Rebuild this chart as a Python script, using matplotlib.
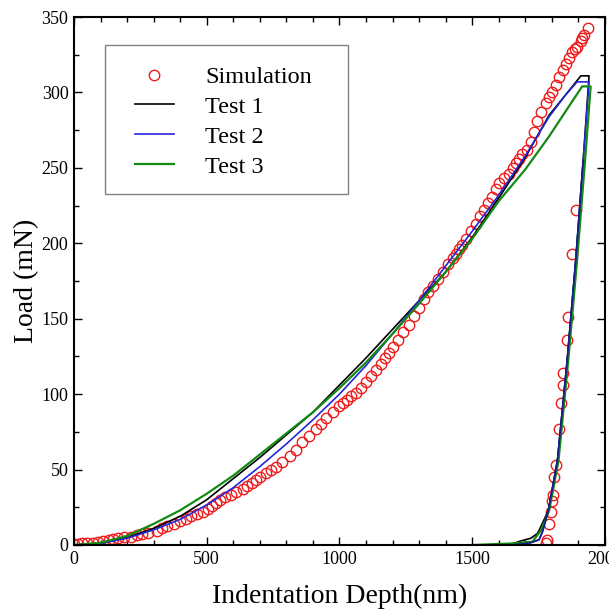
import numpy as np
import matplotlib
matplotlib.use("Agg")
import matplotlib.pyplot as plt
from matplotlib.ticker import MultipleLocator
from matplotlib.patches import Rectangle

plt.rcParams['font.family'] = ['Liberation Serif', 'DejaVu Serif']

# simulation: loading + unloading points (depth nm, load mN)
sim_depth = [0, 15, 30, 50, 70, 90, 110, 130, 147, 165, 190, 215, 236, 258, 280, 311, 330, 350,
             375, 398, 420, 440, 465, 486, 505, 520, 535, 549, 570, 590, 612, 635, 652, 670, 685,
             699, 724, 742, 760, 785, 812, 835, 860, 885, 912, 930, 950, 975, 1000, 1015, 1030,
             1045, 1063, 1080, 1100, 1120, 1138, 1155, 1170, 1185, 1200, 1220, 1238, 1260, 1280,
             1300, 1320, 1335, 1351, 1370, 1390, 1410, 1426, 1440, 1450, 1463, 1476, 1495, 1514,
             1530, 1545, 1560, 1575, 1590, 1602, 1620, 1639, 1652, 1665, 1677, 1689, 1705, 1720,
             1733, 1745, 1760, 1777, 1790, 1802, 1815, 1827, 1840, 1852, 1865, 1877, 1888, 1896,
             1909, 1915, 1921, 1936,
             1890, 1877, 1861, 1856, 1843, 1840, 1836, 1827, 1815, 1808, 1805, 1800, 1796, 1789,
             1783, 1777]
sim_load = [0.5, 0.8, 1, 1.3, 1.6, 2, 2.5, 3, 3.8, 4.3, 5, 5.5, 6.5, 7.3, 8, 9.5, 11, 12.5,
            14, 16, 17.5, 19, 20.5, 22, 24, 26, 28, 30, 31.5, 33, 35, 37, 39, 41, 43,
            45, 47.5, 50, 52, 55, 59, 63, 68, 72, 77, 80, 84, 88, 92, 94, 96,
            98.5, 101, 104, 108, 112, 116, 120, 124, 127, 131, 136, 141, 146, 152,
            157, 163, 168, 172, 176, 181, 186, 190, 193, 196, 199, 203, 208, 213,
            218, 222, 227, 231, 236, 240, 243, 246, 250, 253, 256, 259, 262, 267,
            274, 281, 287, 293, 297, 300, 305, 310, 315, 319, 323, 327, 329, 330,
            334, 336, 338, 343,
            222, 193, 151, 136, 114, 106, 94, 77, 53, 45, 33, 29, 22, 14,
            3, 1]

t1_depth = [0, 100, 200, 300, 400, 500, 600, 700, 800, 900, 1000, 1100, 1200, 1300, 1400, 1500,
            1600, 1700, 1790, 1850, 1909, 1940,
            1918, 1890, 1858, 1821, 1787, 1758, 1746, 1721, 1680, 1639]
t1_load = [0, 1, 5, 11, 19, 30, 44, 58, 73, 88, 106, 124, 143, 162, 181, 204,
           230, 257, 285, 298, 311, 311,
           255, 189, 123, 56, 23, 12, 7.7, 4.5, 2.5, 0]

t2_depth = [0, 100, 200, 300, 400, 500, 600, 700, 800, 900, 1000, 1100, 1200, 1300, 1400, 1500,
            1600, 1700, 1790, 1850, 1895, 1940,
            1918, 1890, 1858, 1821, 1787, 1765, 1752, 1720, 1680, 1640]
t2_load = [0, 1, 4.5, 10, 17, 26.5, 38, 52, 67, 83, 100, 119, 140, 162, 185, 208,
           232, 258, 284, 298, 307, 307,
           255, 189, 123, 56, 23, 9, 3.5, 1.5, 0.5, 0]

t3_depth = [0, 100, 200, 300, 400, 500, 600, 700, 800, 900, 1000, 1100, 1200, 1300, 1400, 1500,
            1600, 1700, 1790, 1850, 1914, 1946,
            1925, 1895, 1862, 1825, 1790, 1760, 1727, 1650, 1500]
t3_load = [0, 1.5, 6, 14, 23, 34, 46, 60, 74, 88, 104, 121, 140, 160, 181, 203,
           228, 249, 271, 287, 304, 304,
           255, 189, 123, 56, 23, 10, 2.2, 1, 0]

fig = plt.figure(figsize=(6.09, 6.12), dpi=100)
ax = fig.add_axes([0.1215, 0.1095, 0.8719, 0.8627])

ax.plot(sim_depth, sim_load, 'o', ms=7.5, mfc='none', mec='#ee1c1c', mew=1.0, label='Simulation')
ax.plot(t1_depth, t1_load, color='black', lw=1.2, label='Test 1')
ax.plot(t2_depth, t2_load, color='#2626d9', lw=1.2, label='Test 2')
ax.plot(t3_depth, t3_load, color='#138a13', lw=1.6, label='Test 3')
# blue drawn again on top for the unloading overlap
ax.plot(t2_depth[22:], t2_load[22:], color='#1a1a8c', lw=1.2)

ax.set_xlim(0, 2000)
ax.set_ylim(0, 350)
ax.xaxis.set_major_locator(MultipleLocator(500))
ax.xaxis.set_minor_locator(MultipleLocator(100))
ax.yaxis.set_major_locator(MultipleLocator(50))
ax.yaxis.set_minor_locator(MultipleLocator(25))
ax.tick_params(which='both', direction='in', top=True, right=True, labelsize=13, pad=4)
ax.tick_params(which='major', length=6, width=1.0)
ax.tick_params(which='minor', length=3.5, width=1.0)
for s in ax.spines.values():
    s.set_linewidth(1.5)

ax.set_xlabel('Indentation Depth(nm)', fontsize=20, labelpad=12)
ax.set_ylabel('Load (mN)', fontsize=20, labelpad=2)

# legend without its own frame; the frame is a separate box
leg = ax.legend(loc='upper left', bbox_to_anchor=(0.1149, 0.907), borderaxespad=0,
                fontsize=17.5, numpoints=1, handlelength=1.6, handletextpad=1.28,
                labelspacing=0.32, borderpad=0, frameon=False)
ax.add_patch(Rectangle((0.0584, 0.665), 0.4576, 0.282, transform=ax.transAxes,
                       fill=True, facecolor='white', edgecolor='0.5', lw=1.0, zorder=4))
leg.set_zorder(5)

fig.savefig('out.png', dpi=100)
